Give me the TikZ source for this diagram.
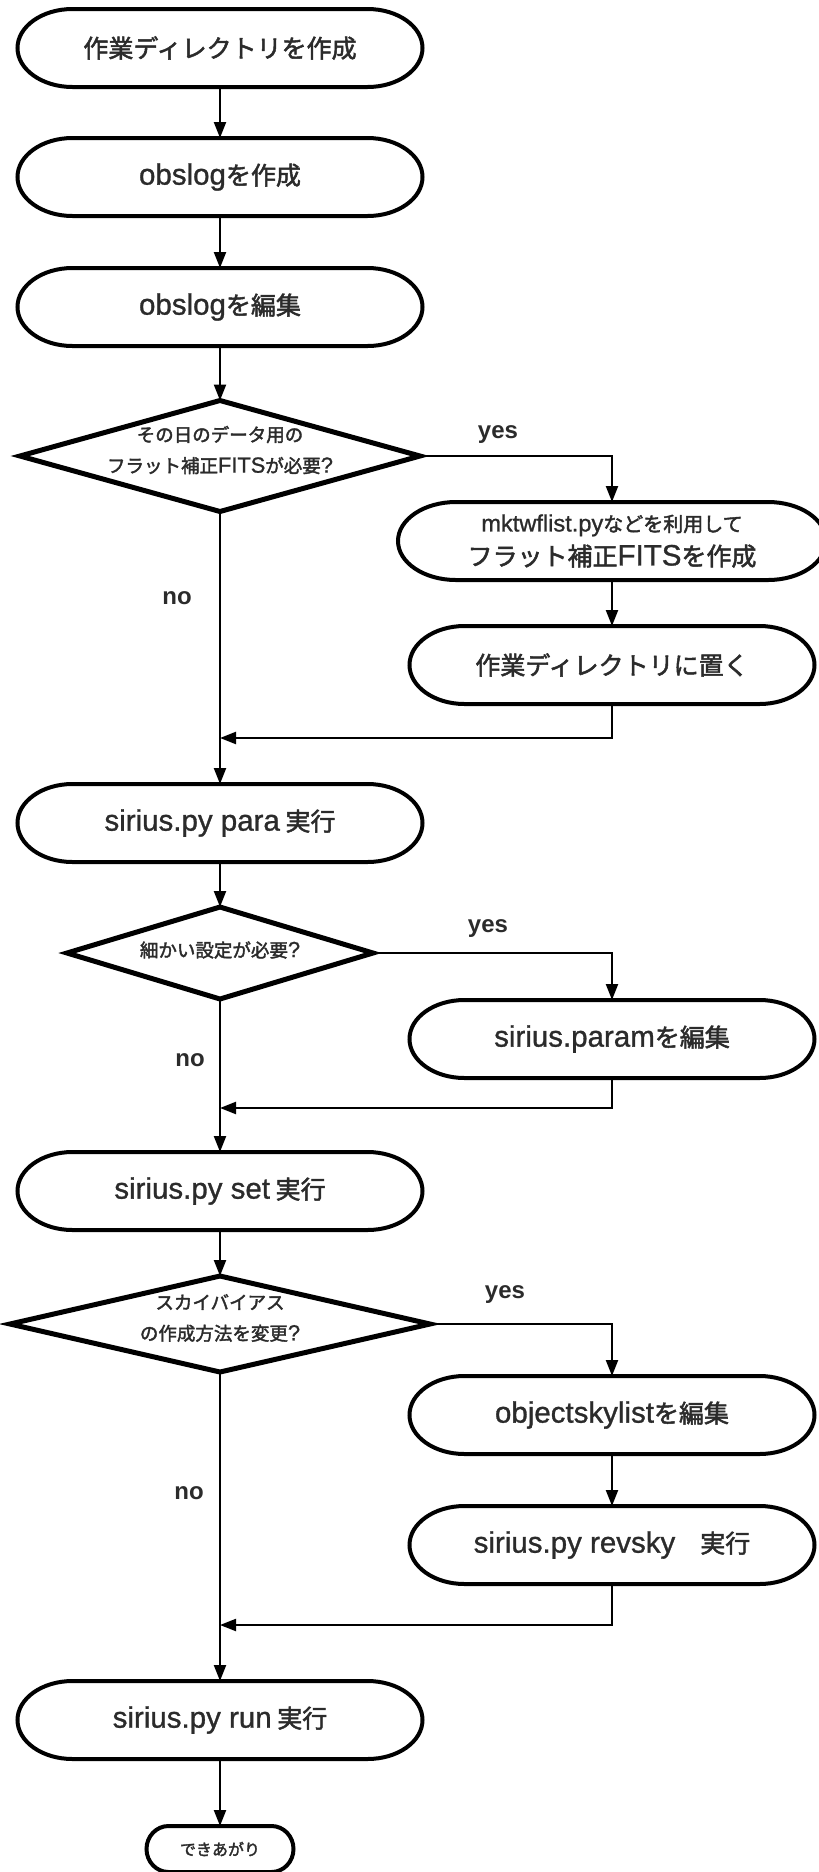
\documentclass[tikz,border=0pt]{standalone}
\usepackage{fontspec}
\setmainfont{Noto Sans CJK JP}
\newfontfamily\medf{Noto Sans CJK JP}[FakeBold=2]
\newfontfamily\latf{Liberation Sans}[Scale=1.18, FakeBold=1]
\newfontfamily\ynf{Liberation Sans}
\newcommand\LatT[1]{{\latf #1}}
\usetikzlibrary{arrows.meta,calc,shapes.geometric}
\definecolor{tcol}{HTML}{2B2B2B}
\tikzset{
  stadtxt/.style={inner sep=0pt, outer sep=0pt, text=tcol, align=center, font=\medf\fontsize{25}{30}\selectfont},
  stadline/.style={line width=4pt, draw=black},
  dia/.style={diamond, draw=black, line width=5pt, inner sep=0pt, outer sep=0pt, line join=miter},
  dtxt/.style={inner sep=0pt, text=tcol, align=center, font=\medf\fontsize{18.5}{31}\selectfont},
  yn/.style={inner sep=0pt, text=tcol, font=\ynf\bfseries\fontsize{24}{26}\selectfont},
  arr/.style={line width=2.2pt, -{Triangle[length=16pt,width=12pt]}},
  conn/.style={line width=2.2pt}
}
% name, x, y, width, height, end radius, text
\newcommand\Stad[7]{%
  \node[stadtxt, minimum width=#4pt, minimum height=#5pt] (#1) at (#2,#3) {#7};
  \draw[stadline] ($(#1.north west)+(#6,0)$) -- ($(#1.north east)+(-#6,0)$)
    arc[start angle=90,end angle=-90,x radius=#6pt,y radius=#5pt/2]
    -- ($(#1.south west)+(#6,0)$)
    arc[start angle=270,end angle=90,x radius=#6pt,y radius=#5pt/2] -- cycle;
}
\begin{document}
\begin{tikzpicture}[x=1pt,y=-1pt]
\useasboundingbox (0,0) rectangle (819,1872);
\clip (0,0) rectangle (819,1872);
\fill[white] (0,0) rectangle (819,1872);

% left column
\Stad{n1}{220}{48}{405}{78}{55}{作業ディレクトリを作成}
\Stad{n2}{220}{177}{405}{78}{55}{\LatT{obslog}を作成}
\Stad{n3}{220}{307}{405}{78}{55}{\LatT{obslog}を編集}
\node[dia, minimum width=400pt, minimum height=111pt] (d1) at (220,456) {};
\node[dtxt] (d1t) at (220,450) {その日のデータ用の\\フラット補正\LatT{FITS}が必要\LatT{?}};

% right branch 1
\Stad{n4}{612}{541}{428}{78}{58}{{\fontsize{20}{22}\selectfont \LatT{mktwflist.py}などを利用して}\\[4pt]フラット補正\LatT{FITS}を作成}
\Stad{n5}{612}{665}{405}{78}{55}{作業ディレクトリに置く}

\Stad{n6}{220}{823}{405}{78}{55}{\LatT{sirius.py para} 実行}
\node[dia, minimum width=306pt, minimum height=92pt] (d2) at (220,953) {};
\node[dtxt] (d2t) at (220,950) {細かい設定が必要\LatT{?}};
\Stad{n7}{612}{1039}{405}{78}{55}{\LatT{sirius.param}を編集}

\Stad{n8}{220}{1191}{405}{78}{55}{\LatT{sirius.py set} 実行}
\node[dia, minimum width=420pt, minimum height=96pt] (d3) at (220,1324) {};
\node[dtxt] (d3t) at (220,1318) {スカイバイアス\\の作成方法を変更\LatT{?}};
\Stad{n9}{612}{1415}{405}{78}{55}{\LatT{objectskylist}を編集}
\Stad{n10}{612}{1545}{405}{78}{55}{\LatT{sirius.py revsky}　実行}

\Stad{n11}{220}{1720}{405}{78}{55}{\LatT{sirius.py run} 実行}
\Stad{n12}{220}{1849}{147}{46}{22}{\fontsize{16}{18}\selectfont できあがり}

% labels
\node[yn] (y1) at (498,435) {yes};
\node[yn] (y2) at (488,929) {yes};
\node[yn] (y3) at (505,1295) {yes};
\node[yn] (no1) at (177,598) {no};
\node[yn] (no2) at (190,1060) {no};
\node[yn] (no3) at (189,1493) {no};

% junction points
\coordinate (j1) at (220,738);
\coordinate (j2) at (220,1108);
\coordinate (j3) at (220,1625);

% connectors
\draw[arr] (n1.south) -- (n2.north);
\draw[arr] (n2.south) -- (n3.north);
\draw[arr] (n3.south) -- (d1.north);
\draw[arr] (d1.east) -| (n4.north);
\draw[arr] (n4.south) -- (n5.north);
\draw[arr] (n5.south) |- (j1);
\draw[arr] (d1.south) -- (n6.north);
\draw[arr] (n6.south) -- (d2.north);
\draw[arr] (d2.east) -| (n7.north);
\draw[arr] (n7.south) |- (j2);
\draw[arr] (d2.south) -- (n8.north);
\draw[arr] (n8.south) -- (d3.north);
\draw[arr] (d3.east) -| (n9.north);
\draw[arr] (n9.south) -- (n10.north);
\draw[arr] (n10.south) |- (j3);
\draw[arr] (d3.south) -- (n11.north);
\draw[arr] (n11.south) -- (n12.north);
\end{tikzpicture}
\end{document}
